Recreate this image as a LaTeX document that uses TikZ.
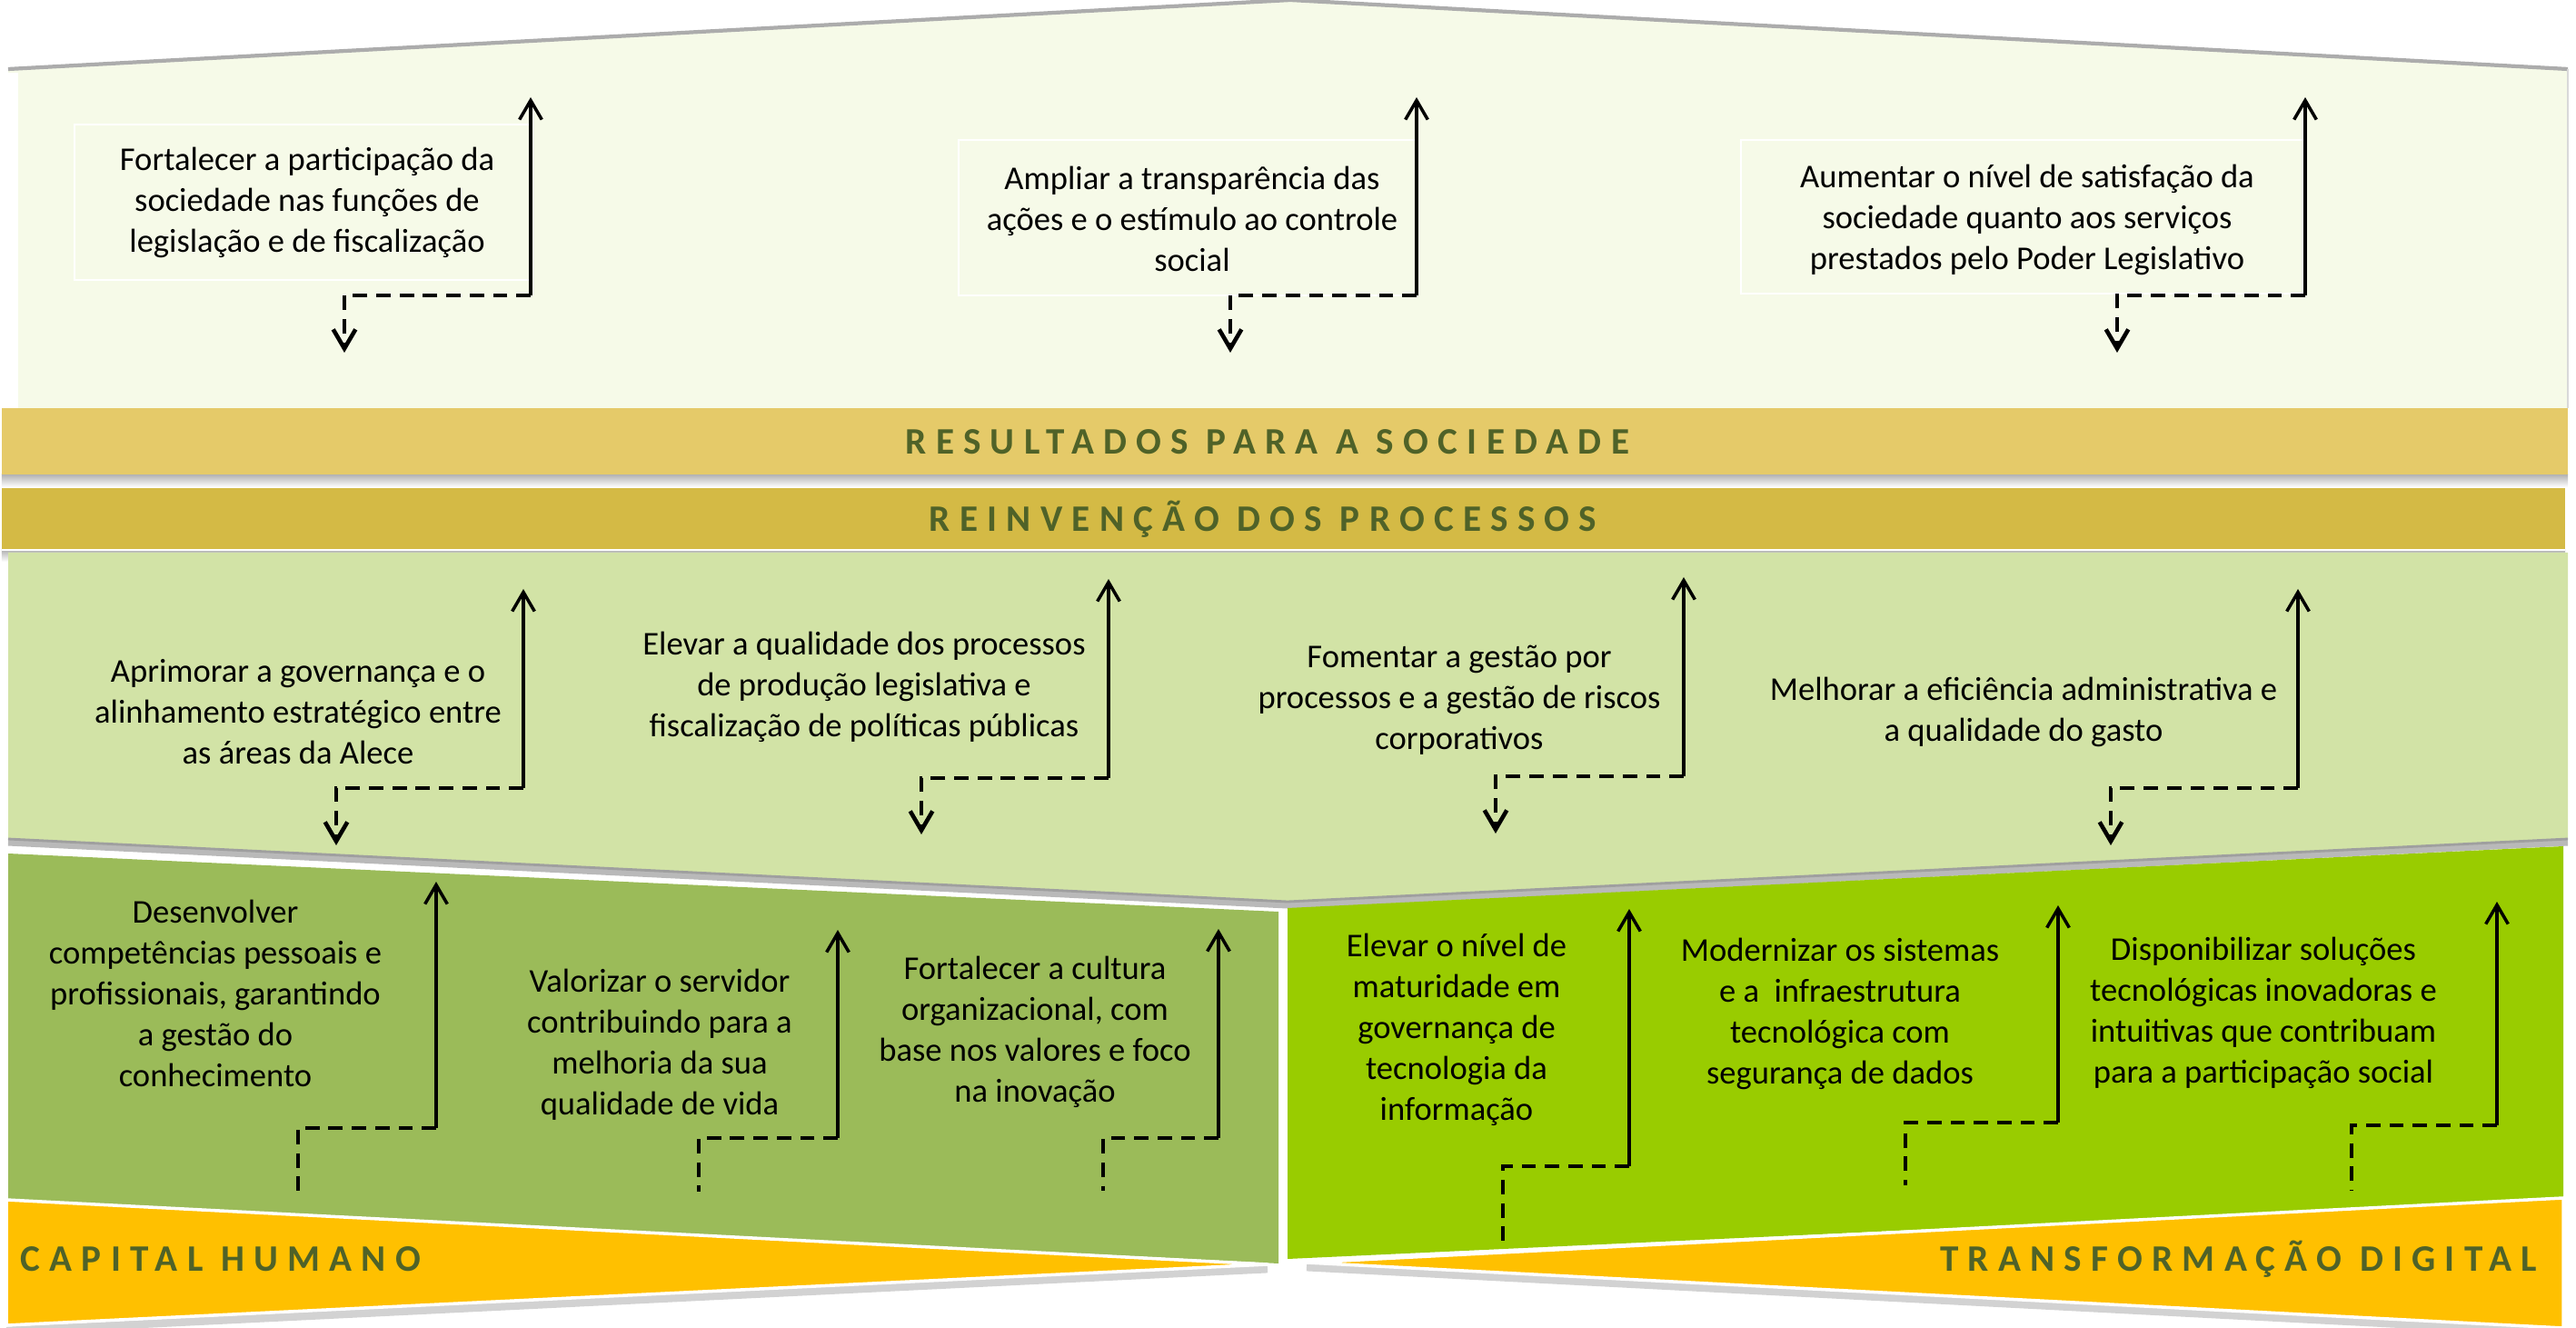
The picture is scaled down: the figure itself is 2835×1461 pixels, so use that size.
\documentclass[tikz,border=0pt]{standalone}
\usepackage{fontspec}
\setmainfont{Carlito}
\newfontfamily\ttlfont[LetterSpace=25]{Carlito}
\usetikzlibrary{arrows.meta}
\definecolor{paleyg}{HTML}{F6FAE8}
\definecolor{bandA}{HTML}{E5CA69}
\definecolor{bandB}{HTML}{D4BA45}
\definecolor{lgreen}{HTML}{D2E3A6}
\definecolor{olive}{HTML}{9BBB59}
\definecolor{lime}{HTML}{99CC00}
\definecolor{orng}{HTML}{FFC000}
\definecolor{ttlgreen}{HTML}{4F6228}
\newcommand\stair[7]{%
  \coordinate (#1-low) at (#2,#3);
  \coordinate (#1-corner) at (#2,#4);
  \coordinate (#1-knee) at (#5,#4);
  \coordinate (#1-top) at (#5,#6);
  \draw[uparrow] (#1-knee) -- (#1-top);
  \draw[dashline,#7] (#1-knee) -- (#1-corner) -- (#1-low);
}
\tikzset{
  txt/.style={align=center, font=\fontsize{10.4}{12.8}\selectfont, inner sep=0pt, text=black},
  ttl/.style={font=\ttlfont\bfseries\fontsize{11.7}{14}\selectfont, text=ttlgreen, inner sep=0pt},
  uparrow/.style={line width=1pt, -{Straight Barb[length=6pt,width=7pt]}},
  dashline/.style={line width=1.3pt, dash pattern=on 4.5pt off 2.8pt},
  downtip/.style={-{Straight Barb[length=6pt,width=7pt]}},
  notip/.style={},
  faintbox/.style={draw=white, line width=0.6pt},
}
\begin{document}
\begin{tikzpicture}[x=0.01cm,y=-0.01cm]
\useasboundingbox (0,0) rectangle (2835,1461);
\fill[white] (0,0) rectangle (2835,1461);
% ---------- top section
\fill[paleyg] (9,76) -- (1420,0) -- (2826,76) -- (2826,449) -- (9,449) -- cycle;
\fill[white] (9,80) rectangle (20,449);
\draw[gray!65, line width=1.2pt, line join=round] (9,76) -- (1420,0) -- (2826,76);
\draw[gray!30, line width=0.8pt] (2826,76) -- (2826,449);
% ---------- bands
\shade[top color=gray!60, bottom color=white] (2,522) rectangle (2826,536);
\fill[bandA] (2,449) rectangle (2826,522);
\shade[top color=gray!60, bottom color=white] (2,605) rectangle (2823,618);
\fill[bandB] (2,537) rectangle (2823,605);
\draw[white, line width=0.8pt] (2,605) -- (2823,605);
\node[ttl] (res) at (1395,486) {RESULTADOS PARA A SOCIEDADE};
\node[ttl] (rei) at (1390,571) {REINVENÇÃO DOS PROCESSOS};
% ---------- middle section
\fill[lgreen] (9,608) -- (2826,608) -- (2826,923) -- (1417,992) -- (9,923) -- cycle;
\draw[gray!55, line width=2pt] (9,927) -- (1417,996) -- (2826,927);
\draw[gray!75, line width=0.8pt] (9,923) -- (1417,992) -- (2826,923);
% ---------- bottom blocks
\fill[olive] (9,939) -- (1407,1003) -- (1407,1390) -- (9,1320) -- cycle;
\fill[lime] (1417,999) -- (2821,931) -- (2821,1320) -- (1417,1385) -- cycle;
\draw[gray!35, line width=2.5pt] (7,1464) -- (1395,1396);
\draw[gray!35, line width=2.5pt] (2821,1466) -- (1438,1394);
\draw[white, line width=1pt, fill=orng] (7,1320) -- (1395,1391) -- (7,1458) -- cycle;
\draw[white, line width=1pt, fill=orng] (2821,1318) -- (1438,1389) -- (2821,1461) -- cycle;
\node[ttl, anchor=west] (cap) at (22,1385) {CAPITAL HUMANO};
\node[ttl, anchor=east] (dig) at (2793,1385) {TRANSFORMAÇÃO DIGITAL};
% ---------- top items
\draw[faintbox] (82,137) rectangle (584,308);
\draw[faintbox] (1055,154) rectangle (1559,325);
\draw[faintbox] (1916,154) rectangle (2537,323);
\node[txt] (t1) at (338,223) {Fortalecer a participação da\\sociedade nas funções de\\legislação e de fiscalização};
\node[txt] (t2) at (1312,241) {Ampliar a transparência das\\ações e o estímulo ao controle\\social};
\node[txt] (t3) at (2231,242) {Aumentar o nível de satisfação da\\sociedade quanto aos serviços\\prestados pelo Poder Legislativo};
\stair{s1}{379}{388}{325}{584}{107}{downtip}
\stair{s2}{1354}{388}{325}{1559}{107}{downtip}
\stair{s3}{2330}{388}{325}{2537}{107}{downtip}
% ---------- middle items
\node[txt] (m1) at (328,783) {Aprimorar a governança e o\\alinhamento estratégico entre\\as áreas da Alece};
\node[txt] (m2) at (951,756) {Elevar a qualidade dos processos\\de produção legislativa e\\fiscalização de políticas públicas};
\node[txt] (m3) at (1606,770) {Fomentar a gestão por\\processos e a gestão de riscos\\corporativos};
\node[txt] (m4) at (2227,783) {Melhorar a eficiência administrativa e\\a qualidade do gasto};
\stair{s4}{370}{930}{867}{576}{648}{downtip}
\stair{s5}{1014}{918}{856}{1220}{637}{downtip}
\stair{s6}{1646}{917}{854}{1853}{635}{downtip}
\stair{s7}{2323}{930}{867}{2529}{648}{downtip}
% ---------- bottom left items
\node[txt] (b1) at (237,1093) {Desenvolver\\competências pessoais e\\profissionais, garantindo\\a gestão do\\conhecimento};
\node[txt] (b2) at (726,1149) {Valorizar o servidor\\contribuindo para a\\melhoria da sua\\qualidade de vida};
\node[txt] (b3) at (1139,1135) {Fortalecer a cultura\\organizacional, com\\base nos valores e foco\\na inovação};
\stair{s8}{328}{1319}{1241}{480}{970}{notip}
\stair{s9}{769}{1311}{1252}{922}{1023}{notip}
\stair{s10}{1214}{1310}{1252}{1341}{1022}{notip}
% ---------- bottom right items
\node[txt] (r1) at (1603,1133) {Elevar o nível de\\maturidade em\\governança de\\tecnologia da\\informação};
\node[txt] (r2) at (2025,1115) {Modernizar os sistemas\\e a \ infraestrutura\\tecnológica com\\segurança de dados};
\node[txt] (r3) at (2491,1114) {Disponibilizar soluções\\tecnológicas inovadoras e\\intuitivas que contribuam\\para a participação social};
\stair{s11}{1654}{1369}{1283}{1793}{1000}{notip}
\stair{s12}{2097}{1304}{1235}{2265}{996}{notip}
\stair{s13}{2588}{1310}{1238}{2748}{992}{notip}
\end{tikzpicture}
\end{document}
